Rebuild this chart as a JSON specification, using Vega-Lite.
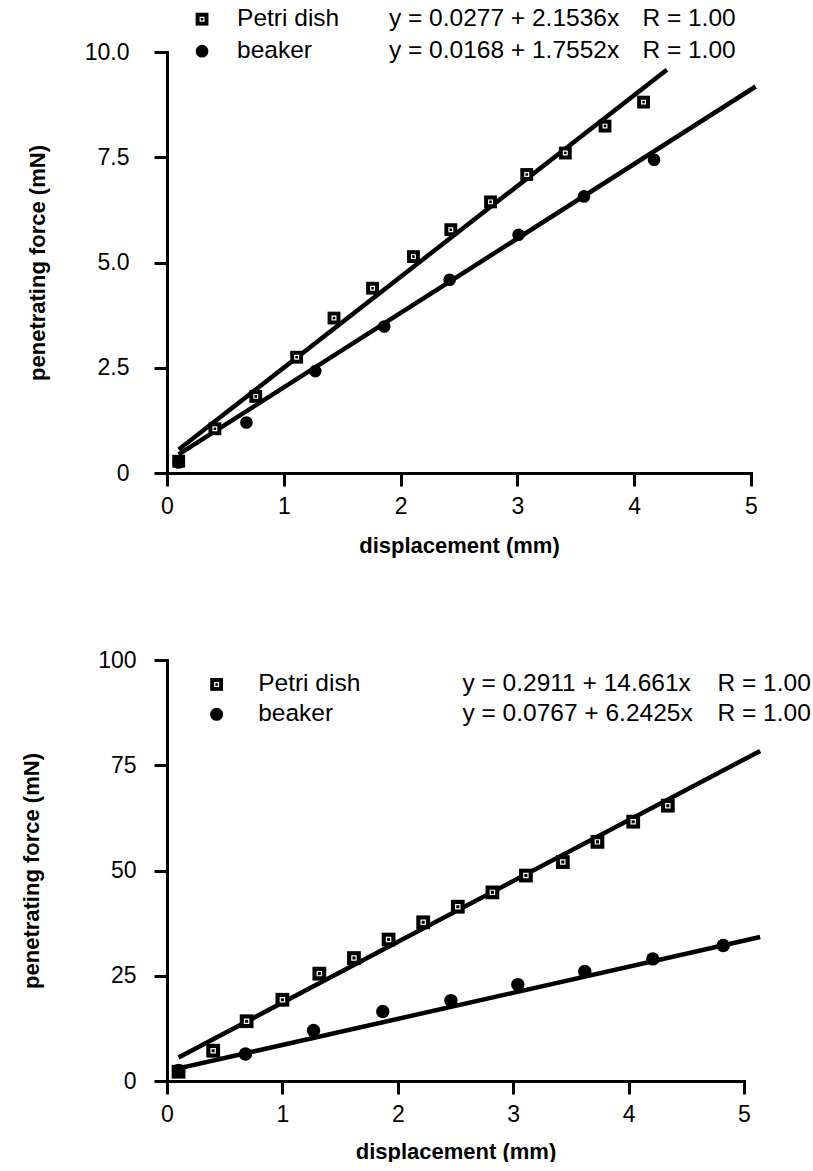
{
  "$schema": "https://vega.github.io/schema/vega-lite/v6.json",
  "padding": {"left": 20, "top": 6, "right": 0, "bottom": 0},
  "background": "white",
  "config": {
    "view": {"stroke": null},
    "font": "Liberation Sans",
    "axis": {
      "grid": false, "domainColor": "black", "domainWidth": 3, "domainCap": "square", "tickColor": "black", "tickWidth": 3, "tickSize": 13,
      "labelFont": "Liberation Sans", "labelFontSize": 23, "labelColor": "black", "labelFlush": false, "labelOverlap": false,
      "titleFont": "Liberation Sans", "titleFontSize": 22, "titleFontWeight": "bold", "titleColor": "black"
    },
    "text": {"font": "Liberation Sans", "fontSize": 24.5, "color": "black", "align": "left", "baseline": "middle"}
  },
  "datasets": {
    "top_pts": [
      {"series": "Petri dish", "x": 0.10, "y": 0.28}, {"series": "Petri dish", "x": 0.41, "y": 1.05},
      {"series": "Petri dish", "x": 0.76, "y": 1.82}, {"series": "Petri dish", "x": 1.11, "y": 2.75},
      {"series": "Petri dish", "x": 1.43, "y": 3.68}, {"series": "Petri dish", "x": 1.76, "y": 4.39},
      {"series": "Petri dish", "x": 2.11, "y": 5.14}, {"series": "Petri dish", "x": 2.43, "y": 5.78},
      {"series": "Petri dish", "x": 2.77, "y": 6.44}, {"series": "Petri dish", "x": 3.08, "y": 7.09},
      {"series": "Petri dish", "x": 3.41, "y": 7.60}, {"series": "Petri dish", "x": 3.75, "y": 8.24},
      {"series": "Petri dish", "x": 4.08, "y": 8.81},
      {"series": "beaker", "x": 0.10, "y": 0.25}, {"series": "beaker", "x": 0.68, "y": 1.20},
      {"series": "beaker", "x": 1.27, "y": 2.42}, {"series": "beaker", "x": 1.86, "y": 3.48},
      {"series": "beaker", "x": 2.42, "y": 4.59}, {"series": "beaker", "x": 3.01, "y": 5.66},
      {"series": "beaker", "x": 3.57, "y": 6.57}, {"series": "beaker", "x": 4.17, "y": 7.44}
    ],
    "top_fit": [
      {"series": "Petri dish", "x": 0.10, "y": 0.56}, {"series": "Petri dish", "x": 4.28, "y": 9.58},
      {"series": "beaker", "x": 0.10, "y": 0.44}, {"series": "beaker", "x": 5.04, "y": 9.18}
    ],
    "top_leg": [
      {"series": "Petri dish", "equation": "y = 0.0277 + 2.1536x", "r": "R = 1.00"},
      {"series": "beaker", "equation": "y = 0.0168 + 1.7552x", "r": "R = 1.00"}
    ],
    "bot_pts": [
      {"series": "Petri dish", "x": 0.10, "y": 2.2}, {"series": "Petri dish", "x": 0.40, "y": 7.2},
      {"series": "Petri dish", "x": 0.69, "y": 14.2}, {"series": "Petri dish", "x": 1.00, "y": 19.3},
      {"series": "Petri dish", "x": 1.32, "y": 25.5}, {"series": "Petri dish", "x": 1.62, "y": 29.2},
      {"series": "Petri dish", "x": 1.92, "y": 33.6}, {"series": "Petri dish", "x": 2.22, "y": 37.7},
      {"series": "Petri dish", "x": 2.52, "y": 41.4}, {"series": "Petri dish", "x": 2.82, "y": 44.8},
      {"series": "Petri dish", "x": 3.11, "y": 48.8}, {"series": "Petri dish", "x": 3.43, "y": 52.0},
      {"series": "Petri dish", "x": 3.73, "y": 56.8}, {"series": "Petri dish", "x": 4.04, "y": 61.6},
      {"series": "Petri dish", "x": 4.34, "y": 65.4},
      {"series": "beaker", "x": 0.10, "y": 2.5}, {"series": "beaker", "x": 0.68, "y": 6.4},
      {"series": "beaker", "x": 1.27, "y": 12.0}, {"series": "beaker", "x": 1.87, "y": 16.5},
      {"series": "beaker", "x": 2.46, "y": 19.1}, {"series": "beaker", "x": 3.04, "y": 22.9},
      {"series": "beaker", "x": 3.62, "y": 26.0}, {"series": "beaker", "x": 4.21, "y": 29.0},
      {"series": "beaker", "x": 4.82, "y": 32.2}
    ],
    "bot_fit": [
      {"series": "Petri dish", "x": 0.10, "y": 5.6}, {"series": "Petri dish", "x": 5.14, "y": 78.4},
      {"series": "beaker", "x": 0.10, "y": 3.0}, {"series": "beaker", "x": 5.14, "y": 34.2}
    ],
    "bot_leg": [
      {"series": "Petri dish", "equation": "y = 0.2911 + 14.661x", "r": "R = 1.00"},
      {"series": "beaker", "equation": "y = 0.0767 + 6.2425x", "r": "R = 1.00"}
    ]
  },
  "concat": [
    {
      "width": 584, "height": 421,
      "layer": [
        {
          "data": {"name": "top_fit"},
          "mark": {"type": "line", "color": "black", "strokeWidth": 4.5, "clip": false},
          "encoding": {
            "x": {"field": "x", "type": "quantitative", "scale": {"domain": [0, 5], "nice": false},
                  "axis": {"title": "displacement (mm)", "values": [0, 1, 2, 3, 4, 5], "format": "d", "labelPadding": 9, "titlePadding": 17}},
            "y": {"field": "y", "type": "quantitative", "scale": {"domain": [0, 10], "nice": false},
                  "axis": {"title": "penetrating force (mN)", "values": [0, 2.5, 5, 7.5, 10],
                           "labelExpr": "datum.value == 0 ? '0' : format(datum.value, '.1f')", "labelPadding": 25, "titlePadding": 35}},
            "detail": {"field": "series"}
          }
        },
        {
          "data": {"name": "top_pts"}, "transform": [{"filter": "datum.series == 'Petri dish'"}],
          "mark": {"type": "point", "shape": "square", "filled": true, "color": "black", "size": 165, "opacity": 1},
          "encoding": {"x": {"field": "x", "type": "quantitative"}, "y": {"field": "y", "type": "quantitative"}}
        },
        {
          "data": {"name": "top_pts"}, "transform": [{"filter": "datum.series == 'Petri dish'"}],
          "mark": {"type": "point", "shape": "square", "filled": false, "color": "white", "size": 14, "strokeWidth": 1.2, "opacity": 1},
          "encoding": {"x": {"field": "x", "type": "quantitative"}, "y": {"field": "y", "type": "quantitative"}}
        },
        {
          "data": {"name": "top_pts"}, "transform": [{"filter": "datum.series == 'beaker'"}],
          "mark": {"type": "circle", "color": "black", "size": 160, "opacity": 1},
          "encoding": {"x": {"field": "x", "type": "quantitative"}, "y": {"field": "y", "type": "quantitative"}}
        },
        {
          "data": {"name": "top_leg"}, "transform": [{"filter": "datum.series == 'Petri dish'"}],
          "mark": {"type": "point", "shape": "square", "filled": true, "color": "black", "size": 165, "opacity": 1},
          "encoding": {"x": {"datum": 0.30, "type": "quantitative"}, "y": {"datum": 10.78, "type": "quantitative"}}
        },
        {
          "data": {"name": "top_leg"}, "transform": [{"filter": "datum.series == 'Petri dish'"}],
          "mark": {"type": "point", "shape": "square", "filled": false, "color": "white", "size": 14, "strokeWidth": 1.2, "opacity": 1},
          "encoding": {"x": {"datum": 0.30, "type": "quantitative"}, "y": {"datum": 10.78, "type": "quantitative"}}
        },
        {
          "data": {"name": "top_leg"}, "transform": [{"filter": "datum.series == 'beaker'"}],
          "mark": {"type": "circle", "color": "black", "size": 160, "opacity": 1},
          "encoding": {"x": {"datum": 0.30, "type": "quantitative"}, "y": {"datum": 10.02, "type": "quantitative"}}
        },
        {
          "data": {"name": "top_leg"}, "transform": [{"filter": "datum.series == 'Petri dish'"}],
          "mark": {"type": "text"},
          "encoding": {"x": {"datum": 0.60, "type": "quantitative"}, "y": {"datum": 10.78, "type": "quantitative"}, "text": {"field": "series"}}
        },
        {
          "data": {"name": "top_leg"}, "transform": [{"filter": "datum.series == 'Petri dish'"}],
          "mark": {"type": "text"},
          "encoding": {"x": {"datum": 1.90, "type": "quantitative"}, "y": {"datum": 10.78, "type": "quantitative"}, "text": {"field": "equation"}}
        },
        {
          "data": {"name": "top_leg"}, "transform": [{"filter": "datum.series == 'Petri dish'"}],
          "mark": {"type": "text"},
          "encoding": {"x": {"datum": 4.07, "type": "quantitative"}, "y": {"datum": 10.78, "type": "quantitative"}, "text": {"field": "r"}}
        },
        {
          "data": {"name": "top_leg"}, "transform": [{"filter": "datum.series == 'beaker'"}],
          "mark": {"type": "text"},
          "encoding": {"x": {"datum": 0.60, "type": "quantitative"}, "y": {"datum": 10.02, "type": "quantitative"}, "text": {"field": "series"}}
        },
        {
          "data": {"name": "top_leg"}, "transform": [{"filter": "datum.series == 'beaker'"}],
          "mark": {"type": "text"},
          "encoding": {"x": {"datum": 1.90, "type": "quantitative"}, "y": {"datum": 10.02, "type": "quantitative"}, "text": {"field": "equation"}}
        },
        {
          "data": {"name": "top_leg"}, "transform": [{"filter": "datum.series == 'beaker'"}],
          "mark": {"type": "text"},
          "encoding": {"x": {"datum": 4.07, "type": "quantitative"}, "y": {"datum": 10.02, "type": "quantitative"}, "text": {"field": "r"}}
        }
      ]
    },
    {
      "width": 577, "height": 421,
      "layer": [
        {
          "data": {"name": "bot_fit"},
          "mark": {"type": "line", "color": "black", "strokeWidth": 4.5, "clip": false},
          "encoding": {
            "x": {"field": "x", "type": "quantitative", "scale": {"domain": [0, 5], "nice": false},
                  "axis": {"title": "displacement (mm)", "values": [0, 1, 2, 3, 4, 5], "format": "d", "labelPadding": 9, "titlePadding": 15}},
            "y": {"field": "y", "type": "quantitative", "scale": {"domain": [0, 100], "nice": false},
                  "axis": {"title": "penetrating force (mN)", "values": [0, 25, 50, 75, 100], "format": "d", "labelPadding": 18, "titlePadding": 54}},
            "detail": {"field": "series"}
          }
        },
        {
          "data": {"name": "bot_pts"}, "transform": [{"filter": "datum.series == 'Petri dish'"}],
          "mark": {"type": "point", "shape": "square", "filled": true, "color": "black", "size": 190, "opacity": 1},
          "encoding": {"x": {"field": "x", "type": "quantitative"}, "y": {"field": "y", "type": "quantitative"}}
        },
        {
          "data": {"name": "bot_pts"}, "transform": [{"filter": "datum.series == 'Petri dish'"}],
          "mark": {"type": "point", "shape": "square", "filled": false, "color": "white", "size": 18, "strokeWidth": 1.2, "opacity": 1},
          "encoding": {"x": {"field": "x", "type": "quantitative"}, "y": {"field": "y", "type": "quantitative"}}
        },
        {
          "data": {"name": "bot_pts"}, "transform": [{"filter": "datum.series == 'beaker'"}],
          "mark": {"type": "circle", "color": "black", "size": 180, "opacity": 1},
          "encoding": {"x": {"field": "x", "type": "quantitative"}, "y": {"field": "y", "type": "quantitative"}}
        },
        {
          "data": {"name": "bot_leg"}, "transform": [{"filter": "datum.series == 'Petri dish'"}],
          "mark": {"type": "point", "shape": "square", "filled": true, "color": "black", "size": 165, "opacity": 1},
          "encoding": {"x": {"datum": 0.43, "type": "quantitative"}, "y": {"datum": 94.2, "type": "quantitative"}}
        },
        {
          "data": {"name": "bot_leg"}, "transform": [{"filter": "datum.series == 'Petri dish'"}],
          "mark": {"type": "point", "shape": "square", "filled": false, "color": "white", "size": 14, "strokeWidth": 1.2, "opacity": 1},
          "encoding": {"x": {"datum": 0.43, "type": "quantitative"}, "y": {"datum": 94.2, "type": "quantitative"}}
        },
        {
          "data": {"name": "bot_leg"}, "transform": [{"filter": "datum.series == 'beaker'"}],
          "mark": {"type": "circle", "color": "black", "size": 170, "opacity": 1},
          "encoding": {"x": {"datum": 0.43, "type": "quantitative"}, "y": {"datum": 87.1, "type": "quantitative"}}
        },
        {
          "data": {"name": "bot_leg"}, "transform": [{"filter": "datum.series == 'Petri dish'"}],
          "mark": {"type": "text"},
          "encoding": {"x": {"datum": 0.79, "type": "quantitative"}, "y": {"datum": 94.2, "type": "quantitative"}, "text": {"field": "series"}}
        },
        {
          "data": {"name": "bot_leg"}, "transform": [{"filter": "datum.series == 'Petri dish'"}],
          "mark": {"type": "text"},
          "encoding": {"x": {"datum": 2.56, "type": "quantitative"}, "y": {"datum": 94.2, "type": "quantitative"}, "text": {"field": "equation"}}
        },
        {
          "data": {"name": "bot_leg"}, "transform": [{"filter": "datum.series == 'Petri dish'"}],
          "mark": {"type": "text"},
          "encoding": {"x": {"datum": 4.77, "type": "quantitative"}, "y": {"datum": 94.2, "type": "quantitative"}, "text": {"field": "r"}}
        },
        {
          "data": {"name": "bot_leg"}, "transform": [{"filter": "datum.series == 'beaker'"}],
          "mark": {"type": "text"},
          "encoding": {"x": {"datum": 0.79, "type": "quantitative"}, "y": {"datum": 87.1, "type": "quantitative"}, "text": {"field": "series"}}
        },
        {
          "data": {"name": "bot_leg"}, "transform": [{"filter": "datum.series == 'beaker'"}],
          "mark": {"type": "text"},
          "encoding": {"x": {"datum": 2.56, "type": "quantitative"}, "y": {"datum": 87.1, "type": "quantitative"}, "text": {"field": "equation"}}
        },
        {
          "data": {"name": "bot_leg"}, "transform": [{"filter": "datum.series == 'beaker'"}],
          "mark": {"type": "text"},
          "encoding": {"x": {"datum": 4.77, "type": "quantitative"}, "y": {"datum": 87.1, "type": "quantitative"}, "text": {"field": "r"}}
        }
      ]
    }
  ],
  "columns": 1,
  "align": "none",
  "bounds": "full",
  "spacing": 93
}
